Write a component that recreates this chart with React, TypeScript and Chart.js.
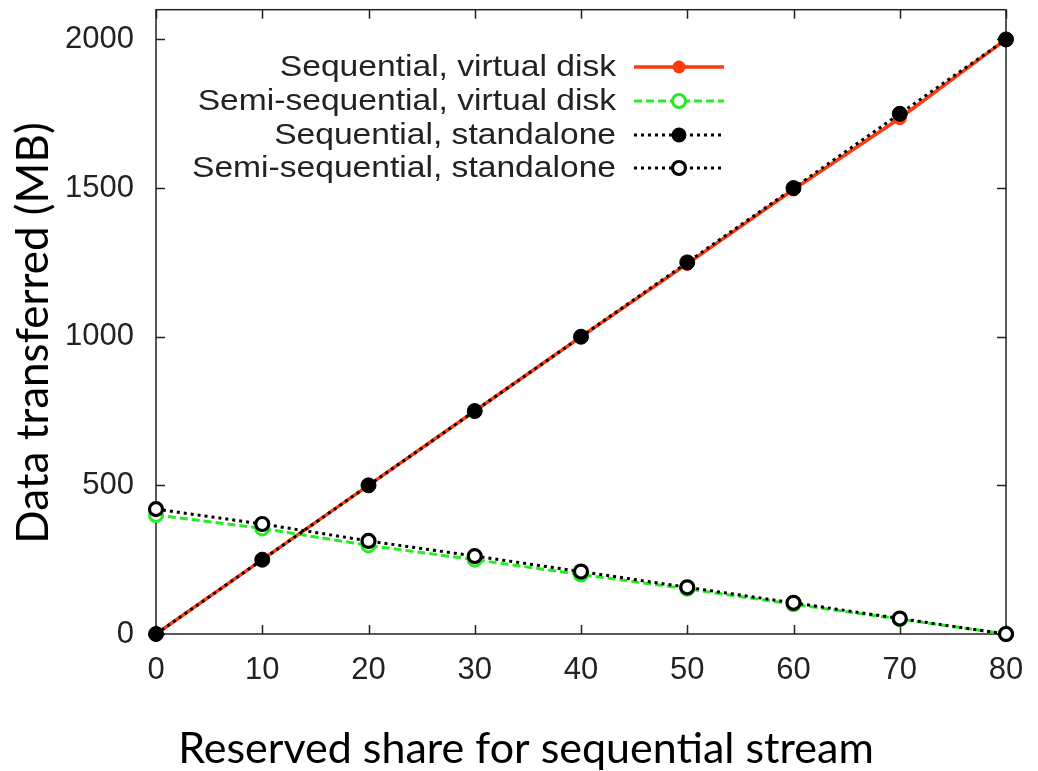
import React, { useEffect, useRef } from "react";
import { Chart, registerables } from "chart.js";

Chart.register(...registerables);

// Reserved share (%) for the sequential stream
const shares = [0, 10, 20, 30, 40, 50, 60, 70, 80];

// Data transferred (MB)
const seqVirtual = [0, 250, 500, 750, 1000, 1245, 1495, 1735, 2000];
const semiVirtual = [400, 355, 298, 250, 200, 152, 100, 50, 0];
const seqStandalone = [0, 250, 500, 750, 1000, 1250, 1500, 1750, 2000];
const semiStandalone = [420, 370, 313, 262, 210, 157, 105, 52, 0];

const seriesLabels = [
  "Sequential, virtual disk",
  "Semi-sequential, virtual disk",
  "Sequential, standalone",
  "Semi-sequential, standalone",
];

const yTicks = [0, 500, 1000, 1500, 2000];
const xTicks = [0, 10, 20, 30, 40, 50, 60, 70, 80];

const xTitle = "Reserved share for sequential stream";
const yTitle = "Data transferred (MB)";

const RED = "#ff3a10";
const GREEN = "#22ee22";
const BLACK = "#000000";

const sansFamily = "'Liberation Sans', Arial, sans-serif";
const titleFamily = "Lato, 'Open Sans', sans-serif";
const tickFont = { family: sansFamily, size: 31 };

// Frame box with inward ticks on all four sides
const framePlugin = {
  id: "frame",
  beforeDatasetsDraw(chart: any) {
    const { ctx, chartArea: a, scales } = chart;
    ctx.save();
    ctx.strokeStyle = "#222";
    ctx.lineWidth = 1.5;
    ctx.strokeRect(a.left, a.top, a.right - a.left, a.bottom - a.top);
    const len = 9;
    ctx.beginPath();
    for (const v of xTicks) {
      const x = Math.round(scales.x.getPixelForValue(v)) + 0.5;
      ctx.moveTo(x, a.bottom);
      ctx.lineTo(x, a.bottom - len);
      ctx.moveTo(x, a.top);
      ctx.lineTo(x, a.top + len);
    }
    for (const v of yTicks) {
      const y = Math.round(scales.y.getPixelForValue(v)) + 0.5;
      ctx.moveTo(a.left, y);
      ctx.lineTo(a.left + len, y);
      ctx.moveTo(a.right, y);
      ctx.lineTo(a.right - len, y);
    }
    ctx.stroke();
    ctx.restore();
  },
};

// Axis titles in a humanist sans, placed independently of the plot centre
const axisTitlePlugin = {
  id: "axisTitles",
  afterDraw(chart: any) {
    const { ctx } = chart;
    ctx.save();
    ctx.fillStyle = "#000";
    ctx.textAlign = "center";

    ctx.font = `43px ${titleFamily}`;
    ctx.textBaseline = "alphabetic";
    ctx.fillText(xTitle, 526, 763);

    ctx.translate(34, 333);
    ctx.rotate(-Math.PI / 2);
    ctx.font = `44px ${titleFamily}`;
    ctx.textBaseline = "middle";
    ctx.fillText(yTitle, 0, 0);
    ctx.restore();
  },
};

// Key drawn inside the plot: right-aligned text followed by a line sample
const keyPlugin = {
  id: "key",
  afterDatasetsDraw(chart: any) {
    const { ctx } = chart;
    const textRight = 616;
    const x0 = 634;
    const x1 = 724;
    const rows = [67, 101, 135, 168];
    const stretch = 1.12;
    ctx.save();
    chart.data.datasets.forEach((ds: any, i: number) => {
      const y = rows[i];
      ctx.save();
      ctx.translate(textRight, y + 1);
      ctx.scale(stretch, 1);
      ctx.font = `30px ${sansFamily}`;
      ctx.textAlign = "right";
      ctx.textBaseline = "middle";
      ctx.fillStyle = "#222";
      ctx.fillText(ds.label, 0, 0);
      ctx.restore();

      ctx.strokeStyle = ds.borderColor;
      ctx.lineWidth = ds.borderWidth;
      ctx.setLineDash(ds.borderDash || []);
      ctx.beginPath();
      ctx.moveTo(x0, y);
      ctx.lineTo(x1, y);
      ctx.stroke();
      ctx.setLineDash([]);
      const cx = (x0 + x1) / 2;
      ctx.beginPath();
      ctx.arc(cx, y, ds.pointRadius, 0, Math.PI * 2);
      if (ds.pointBackgroundColor !== "#ffffff") {
        ctx.fillStyle = ds.pointBackgroundColor;
        ctx.fill();
      } else {
        ctx.fillStyle = "#ffffff";
        ctx.fill();
        ctx.lineWidth = ds.pointBorderWidth;
        ctx.strokeStyle = ds.pointBorderColor;
        ctx.stroke();
      }
    });
    ctx.restore();
  },
};

export default function App() {
  const canvasRef = useRef<HTMLCanvasElement>(null);

  useEffect(() => {
    const canvas = canvasRef.current;
    if (!canvas) return;
    const toPoints = (vals: number[]) => vals.map((v, i) => ({ x: shares[i], y: v }));

    const chart = new Chart(canvas, {
      type: "line",
      data: {
        datasets: [
          {
            label: seriesLabels[0],
            data: toPoints(seqVirtual),
            borderColor: RED,
            borderWidth: 3.5,
            pointRadius: 6.5,
            pointBackgroundColor: RED,
            pointBorderColor: RED,
            pointBorderWidth: 1,
            order: 4,
          },
          {
            label: seriesLabels[1],
            data: toPoints(semiVirtual),
            borderColor: GREEN,
            borderWidth: 3,
            borderDash: [8, 4],
            pointRadius: 6.5,
            pointBackgroundColor: "#ffffff",
            pointBorderColor: GREEN,
            pointBorderWidth: 3,
            order: 3,
          },
          {
            label: seriesLabels[2],
            data: toPoints(seqStandalone),
            borderColor: BLACK,
            borderWidth: 3,
            borderDash: [3, 4],
            pointRadius: 7.5,
            pointBackgroundColor: BLACK,
            pointBorderColor: BLACK,
            pointBorderWidth: 1,
            order: 2,
          },
          {
            label: seriesLabels[3],
            data: toPoints(semiStandalone),
            borderColor: BLACK,
            borderWidth: 3,
            borderDash: [3, 4],
            pointRadius: 6.5,
            pointBackgroundColor: "#ffffff",
            pointBorderColor: BLACK,
            pointBorderWidth: 3.2,
            order: 1,
          },
        ],
      },
      options: {
        responsive: false,
        animation: false,
        clip: false as any,
        layout: { padding: { top: 7, right: 32, left: 0, bottom: 0 } },
        plugins: {
          legend: { display: false },
          tooltip: { enabled: false },
        },
        scales: {
          x: {
            type: "linear",
            min: 0,
            max: 80,
            grid: { display: false },
            border: { display: false },
            afterBuildTicks: (s: any) => {
              s.ticks = xTicks.map((v) => ({ value: v }));
            },
            afterFit: (s: any) => {
              s.height = 771 - 634;
              s.paddingLeft = 0;
              s.paddingRight = 0;
            },
            ticks: {
              color: "#222",
              font: tickFont,
              padding: 10,
              maxRotation: 0,
              callback: (v: any) => String(v),
            },
          },
          y: {
            type: "linear",
            min: 0,
            max: 2100,
            grid: { display: false },
            border: { display: false },
            afterBuildTicks: (s: any) => {
              s.ticks = yTicks.map((v) => ({ value: v }));
            },
            afterFit: (s: any) => {
              s.width = 156;
              s.paddingTop = 0;
              s.paddingBottom = 0;
            },
            ticks: {
              color: "#222",
              font: tickFont,
              padding: 14,
              callback: (v: any) => String(v),
            },
          },
        },
      },
      plugins: [framePlugin, keyPlugin, axisTitlePlugin],
    });

    return () => chart.destroy();
  }, []);

  return (
    <div style={{ position: "fixed", left: 0, top: 0, width: 1038, height: 771, background: "#fff" }}>
      <canvas ref={canvasRef} width={1038} height={771} />
    </div>
  );
}
